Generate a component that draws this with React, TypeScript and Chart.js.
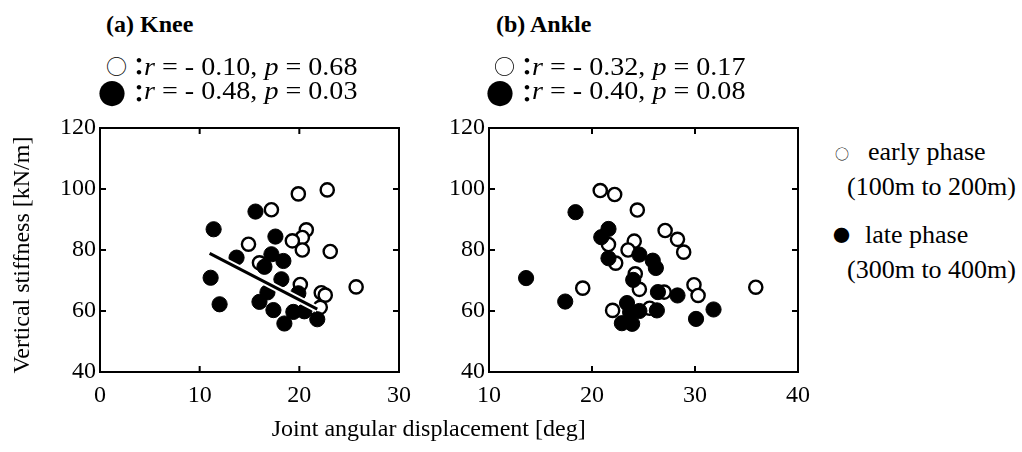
import React, { useEffect, useRef } from "react";
import { Chart, registerables } from "chart.js";

Chart.register(...registerables);

// ---------- data ----------
const kneeEarlyX = [22.8, 19.9, 17.2, 20.7, 20.3, 19.3, 20.3, 14.9, 23.1, 16.0, 20.1, 25.7, 22.2, 22.6, 22.1];
const kneeEarlyY = [99.7, 98.4, 93.2, 86.6, 84.1, 83.0, 80.0, 81.9, 79.5, 75.8, 68.7, 67.9, 66.0, 65.2, 61.2];
const kneeLateX = [15.6, 11.4, 17.6, 13.7, 17.2, 18.4, 16.5, 11.1, 18.2, 16.8, 16.0, 12.0, 17.4, 19.4, 20.5, 21.8, 18.5, 19.9];
const kneeLateY = [92.6, 86.8, 84.4, 77.5, 78.6, 76.4, 74.5, 70.9, 70.4, 66.1, 63.0, 62.2, 60.3, 59.7, 59.9, 57.3, 55.9, 65.8];
const kneeFitX = [11.0, 21.8];
const kneeFitY = [78.9, 60.6];

const ankleEarlyX = [20.8, 22.2, 24.4, 27.1, 28.3, 28.9, 24.1, 23.5, 21.6, 22.3, 24.2, 24.6, 19.1, 27.0, 29.9, 30.3, 35.9, 22.0, 25.6];
const ankleEarlyY = [99.5, 98.2, 93.1, 86.4, 83.5, 79.3, 82.9, 80.0, 81.8, 75.7, 72.2, 67.1, 67.5, 66.2, 68.6, 65.1, 67.8, 60.2, 60.9];
const ankleLateX = [18.4, 21.6, 20.9, 24.6, 25.9, 26.2, 21.6, 24.0, 13.6, 17.4, 26.4, 28.3, 23.4, 23.7, 24.6, 26.3, 22.9, 23.9, 30.1, 31.8];
const ankleLateY = [92.4, 86.9, 84.2, 78.5, 76.5, 74.1, 77.3, 70.2, 70.8, 63.1, 66.2, 65.1, 62.6, 59.6, 60.0, 60.2, 56.0, 55.8, 57.4, 60.5];

const kneeXRange = [0, 30];
const ankleXRange = [10, 40];
const yRange = [40, 120];
const xStep = 10;
const yStep = 20;

const panelTitles = ["(a) Knee", "(b) Ankle"];
const kneeStats = [["- 0.10", "0.68"], ["- 0.48", "0.03"]];
const ankleStats = [["- 0.32", "0.17"], ["- 0.40", "0.08"]];
const legendLabels = [["early phase", "(100m to 200m)"], ["late phase", "(300m to 400m)"]];
const xTitle = "Joint angular displacement [deg]";
const yTitle = "Vertical stiffness [kN/m]";

const SERIF = "'Liberation Serif', 'Times New Roman', serif";
const CJK = "'Noto Sans CJK JP', 'DejaVu Sans', sans-serif";

const zip = (xs: number[], ys: number[]) => xs.map((x, i) => ({ x, y: ys[i] }));

const framePlugin = {
  id: "frame",
  beforeDatasetsDraw(chart: any) {
    const { ctx, chartArea } = chart;
    const { left, right, top, bottom } = chartArea;
    const xs = chart.scales.x;
    const ys = chart.scales.y;
    const L = 6;
    ctx.save();
    ctx.strokeStyle = "#000";
    ctx.lineWidth = 2;
    ctx.beginPath();
    xs.ticks.forEach((t: any) => {
      if (t.value <= xs.min || t.value >= xs.max) return;
      const p = xs.getPixelForValue(t.value);
      ctx.moveTo(p, top);
      ctx.lineTo(p, top + L);
      ctx.moveTo(p, bottom);
      ctx.lineTo(p, bottom - L);
    });
    ys.ticks.forEach((t: any) => {
      if (t.value <= ys.min || t.value >= ys.max) return;
      const p = ys.getPixelForValue(t.value);
      ctx.moveTo(left, p);
      ctx.lineTo(left + L, p);
      ctx.moveTo(right, p);
      ctx.lineTo(right - L, p);
    });
    ctx.stroke();
    ctx.strokeRect(left, top, right - left, bottom - top);
    ctx.restore();
  },
};

type PanelProps = {
  left: number;
  top: number;
  width: number;
  height: number;
  yAxisWidth: number;
  padRight: number;
  padTop: number;
  xAxisHeight: number;
  xRange: number[];
  datasets: any[];
};

function Panel(p: PanelProps) {
  const ref = useRef<HTMLCanvasElement | null>(null);
  useEffect(() => {
    if (!ref.current) return;
    const tickFont = { family: SERIF, size: 24 };
    const chart = new Chart(ref.current, {
      type: "scatter",
      data: { datasets: p.datasets },
      plugins: [framePlugin],
      options: {
        responsive: false,
        animation: false,
        events: [],
        layout: { padding: { left: 0, right: p.padRight, top: p.padTop, bottom: 0 } },
        plugins: { legend: { display: false }, tooltip: { enabled: false }, title: { display: false } },
        scales: {
          x: {
            type: "linear",
            min: p.xRange[0],
            max: p.xRange[1],
            ticks: { stepSize: xStep, color: "#000", font: tickFont, padding: 9 },
            grid: { display: false, drawTicks: false },
            border: { display: false },
            afterFit: (s: any) => {
              s.height = p.xAxisHeight;
            },
          },
          y: {
            type: "linear",
            min: yRange[0],
            max: yRange[1],
            ticks: { stepSize: yStep, color: "#000", font: tickFont, padding: 4 },
            grid: { display: false, drawTicks: false },
            border: { display: false },
            afterFit: (s: any) => {
              s.width = p.yAxisWidth;
            },
          },
        },
      } as any,
    });
    return () => chart.destroy();
  }, []);
  return (
    <canvas
      ref={ref}
      width={p.width}
      height={p.height}
      style={{ position: "absolute", left: p.left, top: p.top, width: p.width, height: p.height }}
    />
  );
}

const earlyStyle = {
  pointRadius: 6.6,
  pointBorderWidth: 2.4,
  pointBackgroundColor: "#fff",
  pointBorderColor: "#000",
  order: 3,
};
const lateStyle = {
  pointRadius: 7.6,
  pointBorderWidth: 1,
  pointBackgroundColor: "#000",
  pointBorderColor: "#000",
  order: 2,
};

const kneeDatasets = [
  { label: "early", data: zip(kneeEarlyX, kneeEarlyY), ...earlyStyle },
  { label: "late", data: zip(kneeLateX, kneeLateY), ...lateStyle },
  {
    label: "fit-halo",
    data: zip(kneeFitX, kneeFitY),
    showLine: true,
    borderColor: "#fff",
    borderWidth: 7,
    pointRadius: 0,
    order: 1,
  },
  {
    label: "fit",
    data: zip(kneeFitX, kneeFitY),
    showLine: true,
    borderColor: "#000",
    borderWidth: 3,
    pointRadius: 0,
    order: 0,
  },
];
const ankleDatasets = [
  { label: "early", data: zip(ankleEarlyX, ankleEarlyY), ...earlyStyle },
  { label: "late", data: zip(ankleLateX, ankleLateY), ...lateStyle },
];

const abs = (left: number, top: number, extra: any = {}) => ({
  position: "absolute" as const,
  left,
  top,
  whiteSpace: "nowrap" as const,
  color: "#000",
  ...extra,
});

function StatRows({ x, stats }: { x: number; stats: string[][] }) {
  // x = left of the open-circle symbol
  return (
    <>
      <span style={abs(x - 1, 54.5, { fontFamily: CJK, fontSize: 21, lineHeight: "21px" })}>○</span>
      <span style={abs(x - 9, 78.5, { fontFamily: CJK, fontSize: 28, lineHeight: "28px" })}>●</span>
      {[0, 1].map((i) => (
        <React.Fragment key={i}>
          <span
            style={abs(x + 20, (i === 0 ? 65 : 92) - 12, {
              fontFamily: CJK,
              fontSize: 24,
              lineHeight: "24px",
              fontWeight: 700,
            })}
          >
            ：
          </span>
          <span
            style={abs(x + 37, (i === 0 ? 76 : 100) - 22, {
              fontFamily: SERIF,
              fontSize: 26,
              lineHeight: "26px",
              transform: "scaleX(1.08)",
              transformOrigin: "0 50%",
            })}
          >
            <i>r</i> = {stats[i][0]}, <i>p</i> = {stats[i][1]}
          </span>
        </React.Fragment>
      ))}
    </>
  );
}

export default function App() {
  return (
    <div
      style={{
        position: "absolute",
        left: 0,
        top: 0,
        width: 1022,
        height: 452,
        background: "#fff",
        overflow: "hidden",
        fontFamily: SERIF,
      }}
    >
      <Panel
        left={0}
        top={100}
        width={420}
        height={320}
        yAxisWidth={100}
        padRight={14}
        padTop={28}
        xAxisHeight={48}
        xRange={kneeXRange}
        datasets={kneeDatasets}
      />
      <Panel
        left={420}
        top={100}
        width={400}
        height={320}
        yAxisWidth={69}
        padRight={22}
        padTop={28}
        xAxisHeight={48}
        xRange={ankleXRange}
        datasets={ankleDatasets}
      />

      <div style={abs(106, 12, { fontSize: 24, lineHeight: "24px", fontWeight: 700 })}>{panelTitles[0]}</div>
      <div style={abs(496, 12, { fontSize: 24, lineHeight: "24px", fontWeight: 700 })}>{panelTitles[1]}</div>

      <StatRows x={107} stats={kneeStats} />
      <StatRows x={495} stats={ankleStats} />

      {/* right legend */}
      <span style={abs(835, 146, { fontFamily: CJK, fontSize: 14, lineHeight: "14px" })}>○</span>
      <div style={abs(868, 139, { fontSize: 26, lineHeight: "26px" })}>{legendLabels[0][0]}</div>
      <div style={abs(847, 174, { fontSize: 26, lineHeight: "26px" })}>{legendLabels[0][1]}</div>
      <span style={abs(833, 226, { fontFamily: CJK, fontSize: 17, lineHeight: "17px" })}>●</span>
      <div style={abs(865, 222, { fontSize: 26, lineHeight: "26px" })}>{legendLabels[1][0]}</div>
      <div style={abs(847, 257, { fontSize: 26, lineHeight: "26px" })}>{legendLabels[1][1]}</div>

      {/* axis titles */}
      <div style={abs(178.7, 416, { width: 500, textAlign: "center", fontSize: 24, lineHeight: "24px" })}>
        {xTitle}
      </div>
      <div
        style={abs(21 - 150, 255 - 12, {
          width: 300,
          textAlign: "center",
          fontSize: 24,
          lineHeight: "24px",
          transform: "rotate(-90deg)",
          transformOrigin: "50% 50%",
        })}
      >
        {yTitle}
      </div>
    </div>
  );
}
